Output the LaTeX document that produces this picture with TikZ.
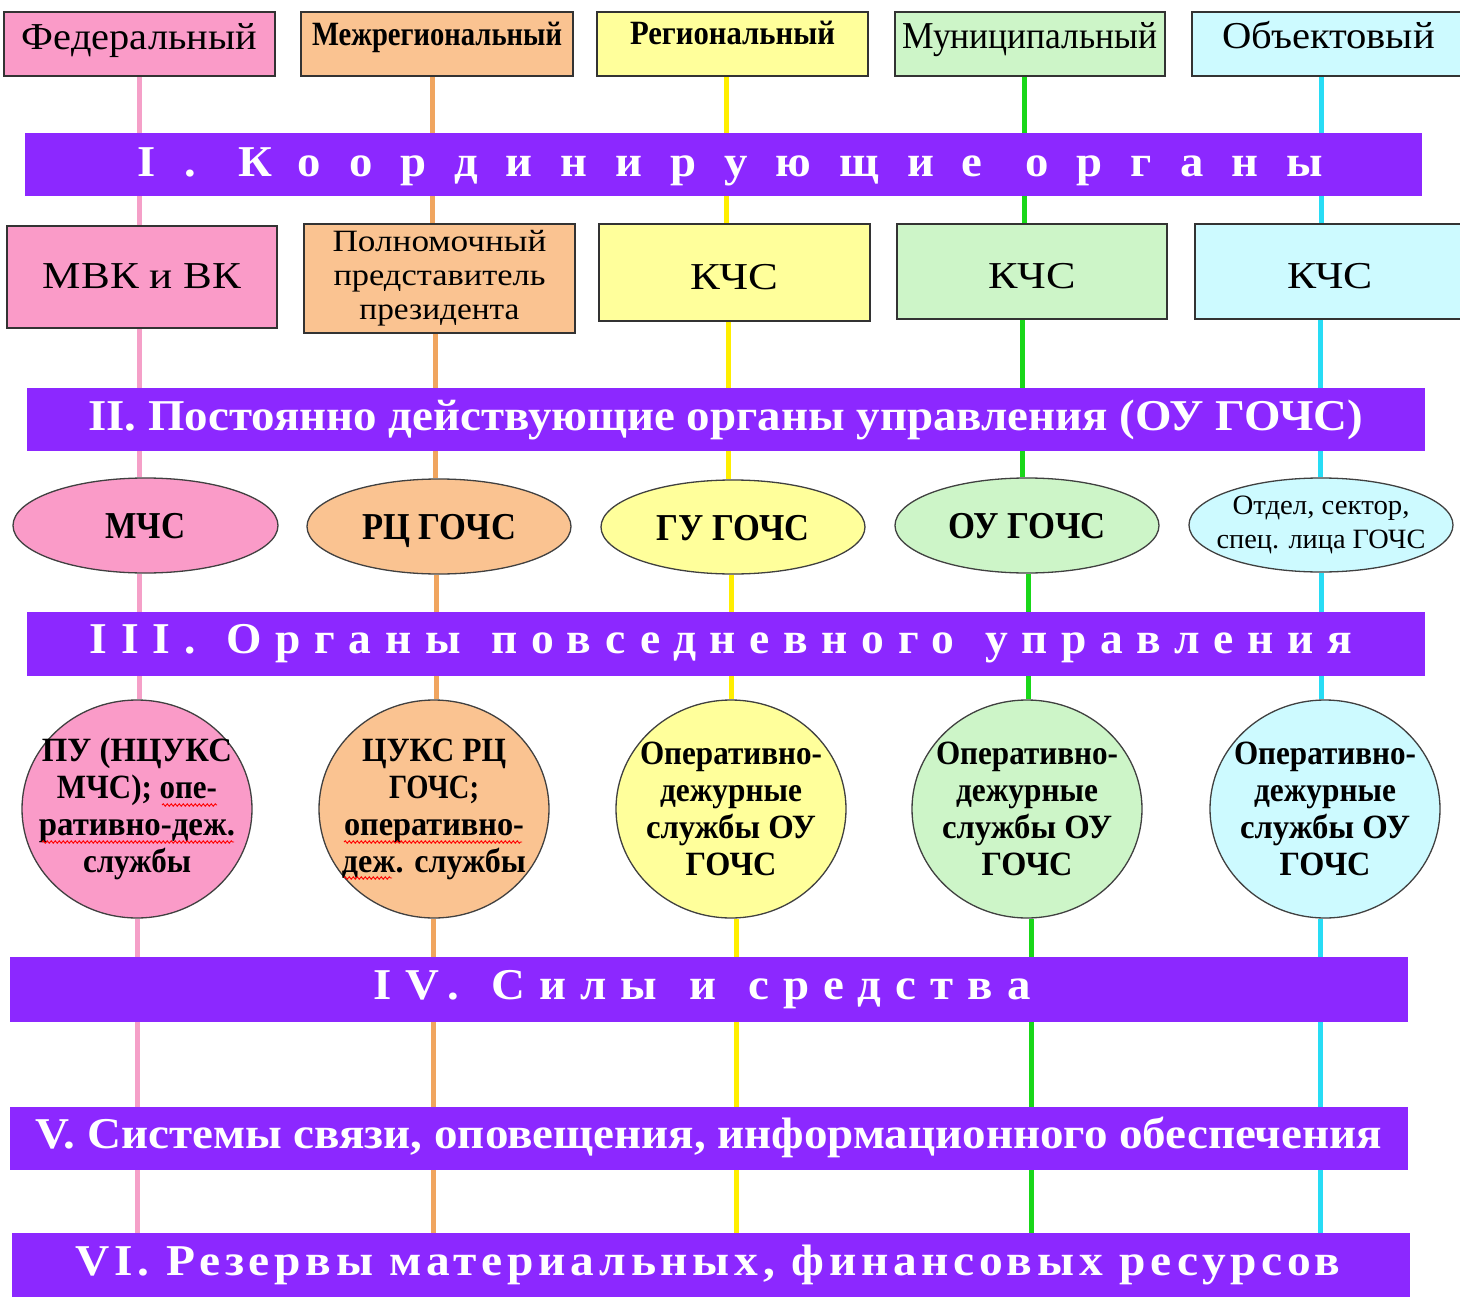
\documentclass[tikz,border=0pt]{standalone}
\usepackage{fontspec}
\setmainfont{Liberation Serif}
\usepackage{graphicx}
\usetikzlibrary{shapes.geometric,backgrounds,decorations.pathmorphing}
\definecolor{pinkf}{RGB}{250,155,200}
\definecolor{orangef}{RGB}{250,195,145}
\definecolor{yellowf}{RGB}{255,255,155}
\definecolor{greenf}{RGB}{205,245,200}
\definecolor{cyanf}{RGB}{205,250,255}
\definecolor{pinkl}{RGB}{245,160,200}
\definecolor{orangel}{RGB}{240,165,95}
\definecolor{yellowl}{RGB}{255,238,0}
\definecolor{greenl}{RGB}{25,215,25}
\definecolor{cyanl}{RGB}{40,220,245}
\definecolor{barc}{RGB}{140,40,255}
\newcommand\fw[2]{\resizebox{#1pt}{\height}{#2}}
\newcommand\fsz[2]{\fontsize{#1}{#2}\selectfont}
\begin{document}
\begin{tikzpicture}[x=1pt,y=-1pt,
  box/.style={draw=black!80, line width=1.6pt, inner sep=0pt, align=center},
  ovalbox/.style={ellipse, draw=black!75, line width=1.3pt, inner sep=0pt},
  lbl/.style={inner sep=0pt, align=center},
  bar/.style={fill=barc, inner sep=0pt, text=white, minimum width=1398pt, font=\bfseries\fsz{44}{48}, text depth=0pt},
  vline/.style={line width=5pt},
  spell/.style={red, line width=0.9pt, decorate, decoration={snake, amplitude=1.2pt, segment length=4pt}}]
\useasboundingbox (0,0) rectangle (1460,1298);

% level headers
\node[box, fill=pinkf, minimum width=271pt, minimum height=64pt, font=\fsz{38}{42}, text height=12pt, text depth=0pt] (t1) at (139.5,44) {\fw{235}{Федеральный}};
\node[box, fill=orangef, minimum width=272pt, minimum height=64pt, font=\bfseries\fsz{34}{38}, text height=3pt, text depth=0pt] (t2) at (437,44) {\fw{250}{Межрегиональный}};
\node[box, fill=yellowf, minimum width=271pt, minimum height=64pt, font=\bfseries\fsz{34}{38}, text height=2pt, text depth=0pt] (t3) at (732.5,44) {\fw{205}{Региональный}};
\node[box, fill=greenf, minimum width=270pt, minimum height=64pt, font=\fsz{38}{42}, text height=10pt, text depth=0pt] (t4) at (1030,44) {\fw{255}{Муниципальный}};
\node[box, fill=cyanf, minimum width=273pt, minimum height=64pt, font=\fsz{38}{42}, text height=10pt, text depth=0pt] (t5) at (1328.5,44) {\fw{213}{Объектовый}};

% bar I
\node[bar, minimum width=1397pt, minimum height=63pt, text height=23pt] (b1) at (723.5,164.5)
  {\hspace{14pt}\fw{1185}{\addfontfeatures{LetterSpace=60}I.\hspace{40pt}Координирующие\hspace{40pt}органы}};

% row 2
\node[box, fill=pinkf, minimum width=270pt, minimum height=102pt, font=\fsz{38}{42}, text height=22pt, text depth=0pt] (r1) at (142,277) {\fw{198}{МВК и ВК}};
\node[box, fill=orangef, minimum width=271pt, minimum height=109pt, font=\fsz{31}{34}] (r2) at (439.5,278.5)
  {\fw{214}{Полномочный}\\\fw{212}{представитель}\\\fw{160}{президента}};
\node[box, fill=yellowf, minimum width=271pt, minimum height=97pt, font=\fsz{38}{42}, text height=34pt, text depth=0pt] (r3) at (734.5,272.5) {\fw{88}{КЧС}};
\node[box, fill=greenf, minimum width=270pt, minimum height=95pt, font=\fsz{38}{42}, text height=33pt, text depth=0pt] (r4) at (1032,271.5) {\fw{87}{КЧС}};
\node[box, fill=cyanf, minimum width=270pt, minimum height=95pt, font=\fsz{38}{42}, text height=33pt, text depth=0pt] (r5) at (1330,271.5) {\fw{86}{КЧС}};

% bar II
\node[bar, minimum height=63pt, text height=21pt] (b2) at (726,419.5) {\fw{1275}{II. Постоянно действующие органы управления (ОУ ГОЧС)}};

% ellipses
\tikzset{elltext/.style={lbl, font=\bfseries\fsz{38}{42}, text height=26pt, text depth=0pt}}
\node[ovalbox, fill=pinkf, minimum width=265pt, minimum height=95pt, label={[elltext]center:{\fw{80}{МЧС}}}] (e1) at (145.5,525.5) {};
\node[ovalbox, fill=orangef, minimum width=264pt, minimum height=95pt, label={[elltext]center:{\fw{154}{РЦ ГОЧС}}}] (e2) at (439,526.5) {};
\node[ovalbox, fill=yellowf, minimum width=264pt, minimum height=94pt, label={[elltext]center:{\fw{153}{ГУ ГОЧС}}}] (e3) at (733,527) {};
\node[ovalbox, fill=greenf, minimum width=264pt, minimum height=95pt, label={[elltext]center:{\fw{157}{ОУ ГОЧС}}}] (e4) at (1027,525.5) {};
\node[ovalbox, fill=cyanf, minimum width=264pt, minimum height=94pt, label={[lbl, font=\fsz{28}{34}]center:{\fw{177}{Отдел, сектор,}\\\fw{209}{спец. лица ГОЧС}}}] (e5) at (1321,525) {};

% bar III
\node[bar, minimum height=64pt, text height=19pt] (b3) at (726,644)
  {\hspace{-10pt}\fw{1262}{\addfontfeatures{LetterSpace=30}III.\hspace{30pt}Органы\hspace{30pt}повседневного\hspace{30pt}управления}};

% circles
\tikzset{circtext/.style={lbl, font=\bfseries\fsz{34}{37}}}
\node[ovalbox, fill=pinkf, minimum width=230pt, minimum height=218pt,
  label={[circtext]center:{\fw{190}{ПУ (НЦУКС}\\\fw{160}{МЧС); опе-}\\\fw{196}{ративно-деж.}\\\fw{108}{службы}}}] (c1) at (137,809) {};
\node[ovalbox, fill=orangef, minimum width=230pt, minimum height=218pt,
  label={[circtext]center:{\fw{144}{ЦУКС РЦ}\\\fw{90}{ГОЧС;}\\\fw{180}{оперативно-}\\\fw{184}{деж. службы}}}] (c2) at (434,809) {};
\node[ovalbox, fill=yellowf, minimum width=230pt, minimum height=218pt,
  label={[circtext]center:{\fw{182}{Оперативно-}\\\fw{142}{дежурные}\\\fw{170}{службы ОУ}\\\fw{91}{ГОЧС}}}] (c3) at (731,809) {};
\node[ovalbox, fill=greenf, minimum width=230pt, minimum height=218pt,
  label={[circtext]center:{\fw{182}{Оперативно-}\\\fw{142}{дежурные}\\\fw{170}{службы ОУ}\\\fw{91}{ГОЧС}}}] (c4) at (1027,809) {};
\node[ovalbox, fill=cyanf, minimum width=230pt, minimum height=218pt,
  label={[circtext]center:{\fw{182}{Оперативно-}\\\fw{142}{дежурные}\\\fw{170}{службы ОУ}\\\fw{91}{ГОЧС}}}] (c5) at (1325,809) {};

% spelling underlines
\draw[spell] (162,805) -- (217,805);
\draw[spell] (42,842) -- (234,842);
\draw[spell] (344,842) -- (522,842);
\draw[spell] (344,878) -- (392,878);

% bars IV-VI
\node[bar, minimum height=65pt, text height=19pt] (b4) at (709,989.5)
  {\hspace{-14pt}\fw{657}{\addfontfeatures{LetterSpace=30}IV.\hspace{30pt}Силы\hspace{30pt}и\hspace{30pt}средства}};
\node[bar, minimum height=63pt, text height=19pt] (b5) at (709,1138.5)
  {\fw{1346}{V. Системы связи, оповещения, информационного обеспечения}};
\node[bar, minimum height=64pt, text height=20pt] (b6) at (711,1265)
  {\hspace{-6pt}\fw{1265}{\addfontfeatures{LetterSpace=10}VI. Резервы материальных, финансовых ресурсов}};

% column line positions
\coordinate (P1) at (139,0); \coordinate (P2) at (139,0); \coordinate (P3) at (139,0); \coordinate (P4) at (137,0);
\coordinate (O1) at (432,0); \coordinate (O2) at (435,0); \coordinate (O3) at (436,0); \coordinate (O4) at (433,0);
\coordinate (Y1) at (726,0); \coordinate (Y2) at (728,0); \coordinate (Y3) at (731,0); \coordinate (Y4) at (736,0);
\coordinate (G1) at (1024,0); \coordinate (G2) at (1022,0); \coordinate (G3) at (1028,0); \coordinate (G4) at (1031,0);
\coordinate (C1) at (1321,0); \coordinate (C2) at (1320,0); \coordinate (C3) at (1321,0); \coordinate (C4) at (1320,0);

\begin{scope}[on background layer]
\fill[white] (0,0) rectangle (1460,1298);
\draw[vline, pinkl] (P1 |- t1.south) -- (P1 |- r1.north) (P2 |- r1.south) -- (P2 |- e1.north)
  (P3 |- e1.south) -- (P3 |- c1.north) (P4 |- c1.south) -- (P4 |- b6.north);
\draw[vline, orangel] (O1 |- t2.south) -- (O1 |- r2.north) (O2 |- r2.south) -- (O2 |- e2.north)
  (O3 |- e2.south) -- (O3 |- c2.north) (O4 |- c2.south) -- (O4 |- b6.north);
\draw[vline, yellowl] (Y1 |- t3.south) -- (Y1 |- r3.north) (Y2 |- r3.south) -- (Y2 |- e3.north)
  (Y3 |- e3.south) -- (Y3 |- c3.north) (Y4 |- c3.south) -- (Y4 |- b6.north);
\draw[vline, greenl] (G1 |- t4.south) -- (G1 |- r4.north) (G2 |- r4.south) -- (G2 |- e4.north)
  (G3 |- e4.south) -- (G3 |- c4.north) (G4 |- c4.south) -- (G4 |- b6.north);
\draw[vline, cyanl] (C1 |- t5.south) -- (C1 |- r5.north) (C2 |- r5.south) -- (C2 |- e5.north)
  (C3 |- e5.south) -- (C3 |- c5.north) (C4 |- c5.south) -- (C4 |- b6.north);
\end{scope}
\end{tikzpicture}
\end{document}
